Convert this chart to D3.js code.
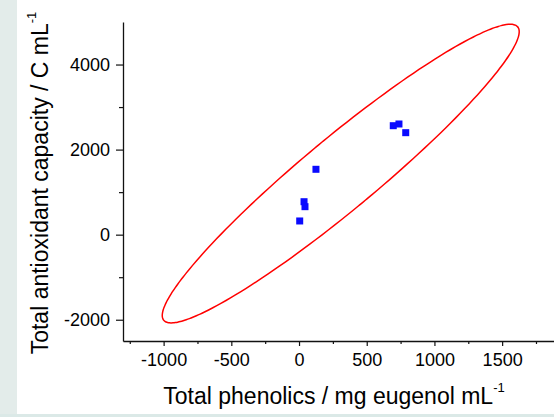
<!DOCTYPE html>
<html>
<head>
<meta charset="utf-8">
<script src="https://cdn.jsdelivr.net/npm/d3@7"></script>
<style>
  body { margin: 0; background: #fff; }
  svg { display: block; font-family: Arial, "Liberation Sans", sans-serif; }
</style>
</head>
<body>
<svg id="chart"></svg>
<script>
// canvas size
var width = 554;
var height = 417;

// measured samples (total phenolics vs antioxidant capacity)
const phenolics = [696, 738, 788, 125, 37, 44, 5];
const antioxidant = [2562, 2602, 2398, 1537, 775, 658, 322];

// confidence ellipse
const ellipseCenter = [308, 1436];
const ellipseRadius = [1318, 3511];
const ellipseCorr = 0.95;

const xMajor = [-1000, -500, 0, 500, 1000, 1500];
const xMinor = [-1250, -750, -250, 250, 750, 1250, 1750];
const yMajor = [-2000, 0, 2000, 4000];
const yMinor = [-1000, 1000, 3000];

let svg = d3.select('#chart').attr('width', width).attr('height', height);

// side / bottom strips of the slide background
svg.append('rect').attr('x', 0).attr('y', 0).attr('width', 17).attr('height', height).attr('fill', '#e3ecea');
svg.append('rect').attr('x', 0).attr('y', 414).attr('width', width).attr('height', 3).attr('fill', '#dbe9e7');

let x = d3.scaleLinear().domain([-1300, 1900]).range([123, 556.3]);
let y = d3.scaleLinear().domain([-2500, 5000]).range([341, 22]);

// ellipse path
let ellipsePts = d3.range(0, 361, 2).map(deg => {
    let t = deg * Math.PI / 180;
    let ex = ellipseCenter[0] + ellipseRadius[0] * Math.cos(t);
    let ey = ellipseCenter[1] + ellipseRadius[1] * (ellipseCorr * Math.cos(t) + Math.sqrt(1 - ellipseCorr * ellipseCorr) * Math.sin(t));
    return [x(ex), y(ey)];
});
svg.append('path')
    .attr('d', d3.line().curve(d3.curveCardinalClosed)(ellipsePts.slice(0, -1)))
    .attr('fill', 'none')
    .attr('stroke', '#ff0000')
    .attr('stroke-width', 1.5);

// points
svg.selectAll('rect.pt')
    .data(phenolics)
    .enter()
    .append('rect')
    .attr('class', 'pt')
    .attr('x', (d) => x(d) - 3.5)
    .attr('y', (d, i) => y(antioxidant[i]) - 3.5)
    .attr('width', 7)
    .attr('height', 7)
    .attr('fill', '#0a0aff');

// x axis
let xAxis = svg.append('g').attr('transform', 'translate(0,341)');
xAxis.call(d3.axisBottom(x).tickValues(xMajor).tickSizeOuter(0).tickSizeInner(5).tickPadding(7).tickFormat(d3.format('d')));
xAxis.append('g').call(d3.axisBottom(x).tickValues(xMinor).tickSize(3).tickFormat(''))
    .select('.domain').remove();

// y axis
let yAxis = svg.append('g').attr('transform', 'translate(123,0)');
yAxis.call(d3.axisLeft(y).tickValues(yMajor).tickSizeOuter(0).tickSizeInner(7).tickPadding(6).tickFormat(d3.format('d')));
yAxis.append('g').call(d3.axisLeft(y).tickValues(yMinor).tickSize(4).tickFormat(''))
    .select('.domain').remove();

svg.selectAll('.domain').attr('stroke', '#111').attr('stroke-width', 1.3);
svg.selectAll('.tick line').attr('stroke', '#111').attr('stroke-width', 1.2);
svg.selectAll('.tick text')
    .attr('font-size', 18)
    .attr('font-family', 'Arial, "Liberation Sans", sans-serif')
    .attr('fill', '#000');
// minus sign as plain hyphen like the original
svg.selectAll('.tick text').text(function () { return this.textContent.replace('\u2212', '-'); });

// axis titles
let xTitle = svg.append('text')
    .attr('x', 334)
    .attr('y', 404)
    .attr('text-anchor', 'middle')
    .attr('font-size', 23)
    .attr('fill', '#000');
xTitle.append('tspan').text('Total phenolics / mg eugenol mL');
xTitle.append('tspan').attr('font-size', 13).attr('dy', -12).text('-1');

let yTitle = svg.append('text')
    .attr('transform', 'translate(48,183) rotate(-90)')
    .attr('text-anchor', 'middle')
    .attr('font-size', 23)
    .attr('fill', '#000');
yTitle.append('tspan').text('Total antioxidant capacity / C mL');
yTitle.append('tspan').attr('font-size', 13).attr('dy', -12).text('-1');
</script>
</body>
</html>
